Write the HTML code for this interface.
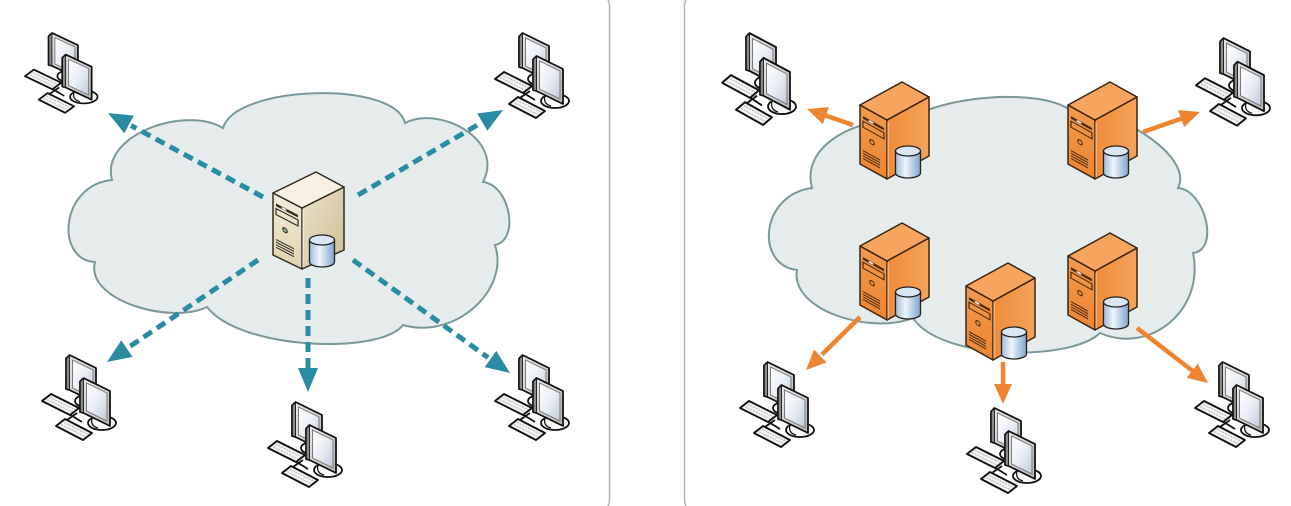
<!DOCTYPE html>
<html>
<head>
<meta charset="utf-8">
<style>
  html,body{margin:0;padding:0;background:#ffffff;}
  body{width:1291px;height:506px;overflow:hidden;font-family:"Liberation Sans",sans-serif;}
  svg{display:block;}
</style>
</head>
<body>
<svg width="1291" height="506" viewBox="0 0 1291 506" xmlns="http://www.w3.org/2000/svg">
  <defs>
    <linearGradient id="scr" x1="0" y1="0" x2="1" y2="1">
      <stop offset="0" stop-color="#ffffff"/>
      <stop offset="0.5" stop-color="#e9eef5"/>
      <stop offset="1" stop-color="#bfcad8"/>
    </linearGradient>
    <linearGradient id="frm" x1="0" y1="0" x2="1" y2="1">
      <stop offset="0" stop-color="#ececec"/>
      <stop offset="1" stop-color="#b9b9b9"/>
    </linearGradient>
    <linearGradient id="cyl" x1="0" y1="0" x2="1" y2="0">
      <stop offset="0" stop-color="#9fbcdc"/>
      <stop offset="0.4" stop-color="#eef4fb"/>
      <stop offset="1" stop-color="#7fa5cd"/>
    </linearGradient>
    <linearGradient id="oFront" x1="0" y1="0" x2="0" y2="1">
      <stop offset="0" stop-color="#f29a4c"/>
      <stop offset="1" stop-color="#ec8531"/>
    </linearGradient>
    <linearGradient id="oSide" x1="0" y1="0" x2="1" y2="0">
      <stop offset="0" stop-color="#ef8c38"/>
      <stop offset="1" stop-color="#f4a35c"/>
    </linearGradient>
    <linearGradient id="bFront" x1="0" y1="0" x2="0" y2="1">
      <stop offset="0" stop-color="#f2ecd9"/>
      <stop offset="1" stop-color="#e0d3b1"/>
    </linearGradient>
    <linearGradient id="bSide" x1="0" y1="0" x2="1" y2="1">
      <stop offset="0" stop-color="#ebe2ca"/>
      <stop offset="1" stop-color="#cfbd95"/>
    </linearGradient>

    <!-- monitor -->
    <g id="mon">
      <polygon points="0,3.5 3.5,0 30,13 30,48 3.5,35 0,34" fill="url(#frm)" stroke="#111" stroke-width="1.8" stroke-linejoin="round"/>
      <polygon points="0.9,3.6 3.5,1.2 3.5,34.4 0.9,33.4" fill="#8a8a8a"/>
      <line x1="3.5" y1="0.5" x2="3.5" y2="35" stroke="#111" stroke-width="0.9"/>
      <polygon points="6.5,5 27,15 27,43 6.5,33" fill="url(#scr)" stroke="#6d6d6d" stroke-width="0.9"/>
    </g>

    <!-- computer -->
    <g id="pc">
      <ellipse cx="46" cy="47" rx="13" ry="6.5" fill="#fafafa" stroke="#111" stroke-width="1.8"/>
      <use href="#mon" transform="translate(24,1)"/>
      <ellipse cx="60" cy="69" rx="14" ry="7" fill="#fafafa" stroke="#111" stroke-width="1.8"/>
      <path d="M50,64 Q48,72 56,74" fill="none" stroke="#111" stroke-width="1.2"/>
      <use href="#mon" transform="translate(38,24)"/>
      <!-- cables -->
      <line x1="22" y1="68" x2="35" y2="59" stroke="#111" stroke-width="1.8"/>
      <line x1="27" y1="60" x2="40" y2="68" stroke="#111" stroke-width="1.8"/>
      <!-- keyboard 1 -->
      <polygon points="0,47 9,40 37,54 28,61" fill="#f3f3f3" stroke="#111" stroke-width="1.9" stroke-linejoin="round"/>
      <line x1="5" y1="45.6" x2="30" y2="58" stroke="#b5b5b5" stroke-width="1" stroke-dasharray="2 1"/>
      <line x1="8" y1="43.3" x2="33" y2="55.7" stroke="#b5b5b5" stroke-width="1" stroke-dasharray="2 1"/>
      <!-- keyboard 2 -->
      <polygon points="14,72 23,65 50,79 41,86" fill="#f3f3f3" stroke="#111" stroke-width="1.9" stroke-linejoin="round"/>
      <line x1="19" y1="70.6" x2="43" y2="82.6" stroke="#b5b5b5" stroke-width="1" stroke-dasharray="2 1"/>
      <line x1="22" y1="68.3" x2="46" y2="80.3" stroke="#b5b5b5" stroke-width="1" stroke-dasharray="2 1"/>
    </g>

    <!-- orange server -->
    <g id="srvO">
      <polygon points="27,38 69,15 69,74 27,97" fill="url(#oSide)" stroke="#3a2410" stroke-width="1.5" stroke-linejoin="round"/>
      <polygon points="0,23 27,38 27,97 0,82" fill="url(#oFront)" stroke="#3a2410" stroke-width="1.5" stroke-linejoin="round"/>
      <polygon points="0,23 42,0 69,15 27,38" fill="#f6a45e" stroke="#3a2410" stroke-width="1.5" stroke-linejoin="round"/>
      <line x1="28" y1="39.5" x2="28" y2="95.5" stroke="#ffd7ae" stroke-width="1"/>
      <g transform="matrix(1,0.5556,0,1,0,23)">
        <rect x="3" y="9.5" width="21" height="2.6" fill="#4a2a0e"/>
        <ellipse cx="11" cy="10.8" rx="2.6" ry="0.9" fill="#fff"/>
        <rect x="3" y="14.5" width="21" height="6" fill="none" stroke="#4a2a0e" stroke-width="1.2"/>
        <circle cx="12" cy="30.5" r="2.2" fill="none" stroke="#4a2a0e" stroke-width="1.1"/>
        <line x1="3" y1="44" x2="20" y2="44" stroke="#4a2a0e" stroke-width="1.1"/>
        <line x1="3" y1="46.6" x2="20" y2="46.6" stroke="#4a2a0e" stroke-width="1.1"/>
        <line x1="3" y1="49.2" x2="20" y2="49.2" stroke="#4a2a0e" stroke-width="1.1"/>
        <line x1="3" y1="51.8" x2="20" y2="51.8" stroke="#4a2a0e" stroke-width="1.1"/>
      </g>
      <path d="M35.5,69 L35.5,91 A12.5,5 0 0 0 60.5,91 L60.5,69 Z" fill="url(#cyl)" stroke="#222" stroke-width="1.3"/>
      <ellipse cx="48" cy="69" rx="12.5" ry="5" fill="#d9e7f5" stroke="#222" stroke-width="1.3"/>
    </g>

    <!-- beige server -->
    <g id="srvB">
      <polygon points="29,36 71,15 71,78 29,97" fill="url(#bSide)" stroke="#2e2a22" stroke-width="1.5" stroke-linejoin="round"/>
      <polygon points="0,21 29,36 29,97 0,83" fill="url(#bFront)" stroke="#2e2a22" stroke-width="1.5" stroke-linejoin="round"/>
      <polygon points="0,21 43,0 71,15 29,36" fill="#f6f1e3" stroke="#2e2a22" stroke-width="1.5" stroke-linejoin="round"/>
      <line x1="30" y1="37.5" x2="30" y2="95.5" stroke="#fffaf0" stroke-width="1"/>
      <g transform="matrix(1,0.5172,0,1,0,21)">
        <rect x="3" y="9" width="22" height="2.6" fill="#2e2a22"/>
        <ellipse cx="11" cy="10.3" rx="2.6" ry="0.9" fill="#fff"/>
        <rect x="3" y="14" width="22" height="6" fill="none" stroke="#2e2a22" stroke-width="1.2"/>
        <circle cx="12" cy="31" r="2.2" fill="#8fae98" stroke="#2e2a22" stroke-width="1.1"/>
        <line x1="3" y1="45" x2="21" y2="45" stroke="#2e2a22" stroke-width="1.1"/>
        <line x1="3" y1="47.6" x2="21" y2="47.6" stroke="#2e2a22" stroke-width="1.1"/>
        <line x1="3" y1="50.2" x2="21" y2="50.2" stroke="#2e2a22" stroke-width="1.1"/>
        <line x1="3" y1="52.8" x2="21" y2="52.8" stroke="#2e2a22" stroke-width="1.1"/>
      </g>
      <path d="M36.5,68 L36.5,90 A12.5,5 0 0 0 61.5,90 L61.5,68 Z" fill="url(#cyl)" stroke="#222" stroke-width="1.3"/>
      <ellipse cx="49" cy="68" rx="12.5" ry="5" fill="#d9e7f5" stroke="#222" stroke-width="1.3"/>
    </g>
  </defs>

  <!-- panels -->
  <rect x="-20" y="-8" width="629.5" height="522" rx="14" fill="none" stroke="#b3b3b3" stroke-width="1.5"/>
  <rect x="684.5" y="-8" width="700" height="522" rx="14" fill="none" stroke="#b3b3b3" stroke-width="1.5"/>

  <!-- clouds -->
  <path d="M223,128 C235,85 395,80 405,123 C440,105 505,140 483,182 C510,185 520,240 495,245 C510,290 455,340 403,325 C380,355 240,350 207,307 C170,325 85,300 95,262 C55,260 60,185 112,180 C100,135 185,105 223,128 Z" fill="#e6ecec" stroke="#7b9899" stroke-width="2"/>
  <path d="M812,188 C800,145 860,115 905,122 C940,95 1040,88 1070,110 C1110,105 1195,155 1178,188 C1205,190 1220,250 1193,253 C1205,310 1150,355 1100,333 C1070,362 940,360 913,318 C870,335 790,310 797,270 C755,265 760,195 812,188 Z" fill="#e6ecec" stroke="#7b9899" stroke-width="2"/>

  <!-- teal dashed arrows -->
  <g stroke="#2a8ca2" stroke-width="5" stroke-dasharray="10 6" fill="none">
    <line x1="263" y1="197" x2="131" y2="125.5"/>
    <line x1="358" y1="195" x2="480" y2="123.5"/>
    <line x1="258" y1="260" x2="129" y2="347"/>
    <line x1="308" y1="278" x2="308" y2="370"/>
    <line x1="353" y1="260" x2="488" y2="357.5"/>
  </g>
  <g fill="#2a8ca2">
    <polygon points="108,113 133.9,115.6 124.3,133.2"/>
    <polygon points="503,110 487.4,130.8 477.2,113.5"/>
    <polygon points="107,362 121.3,340.3 132.5,356.9"/>
    <polygon points="308,392 298,368 318,368"/>
    <polygon points="510,373 484.7,367.1 496.3,350.9"/>
  </g>

  <!-- orange arrows -->
  <g stroke="#ee8430" stroke-width="4.5" fill="none">
    <line x1="853" y1="125" x2="824" y2="115"/>
    <line x1="1143" y1="132" x2="1183" y2="118"/>
    <line x1="860" y1="317" x2="822" y2="354.5"/>
    <line x1="1003" y1="362" x2="1003" y2="386"/>
    <line x1="1137" y1="328" x2="1194" y2="372"/>
  </g>
  <g fill="#ee8430">
    <polygon points="807,109 828.8,107.1 822.9,124.1"/>
    <polygon points="1200,112 1184.1,127.1 1178.1,110.1"/>
    <polygon points="806,370 814,349.6 826.6,362.4"/>
    <polygon points="1003,404 994,384 1012,384"/>
    <polygon points="1208,383 1186.7,377.9 1197.7,363.6"/>
  </g>

  <!-- servers -->
  <use href="#srvB" transform="translate(273,172)"/>
  <use href="#srvO" transform="translate(860,82)"/>
  <use href="#srvO" transform="translate(1068,82)"/>
  <use href="#srvO" transform="translate(860,223)"/>
  <use href="#srvO" transform="translate(1068,233)"/>
  <use href="#srvO" transform="translate(966,263)"/>

  <!-- computers -->
  <use href="#pc" transform="translate(25,32) scale(0.98,0.94)"/>
  <use href="#pc" transform="translate(495,32)"/>
  <use href="#pc" transform="translate(42,354)"/>
  <use href="#pc" transform="translate(268,401)"/>
  <use href="#pc" transform="translate(495,354)"/>
  <use href="#pc" transform="translate(722,32) scale(1,1.08)"/>
  <use href="#pc" transform="translate(1196,37) scale(1,1.03)"/>
  <use href="#pc" transform="translate(740,361)"/>
  <use href="#pc" transform="translate(967,407)"/>
  <use href="#pc" transform="translate(1195,361)"/>
</svg>
</body>
</html>
